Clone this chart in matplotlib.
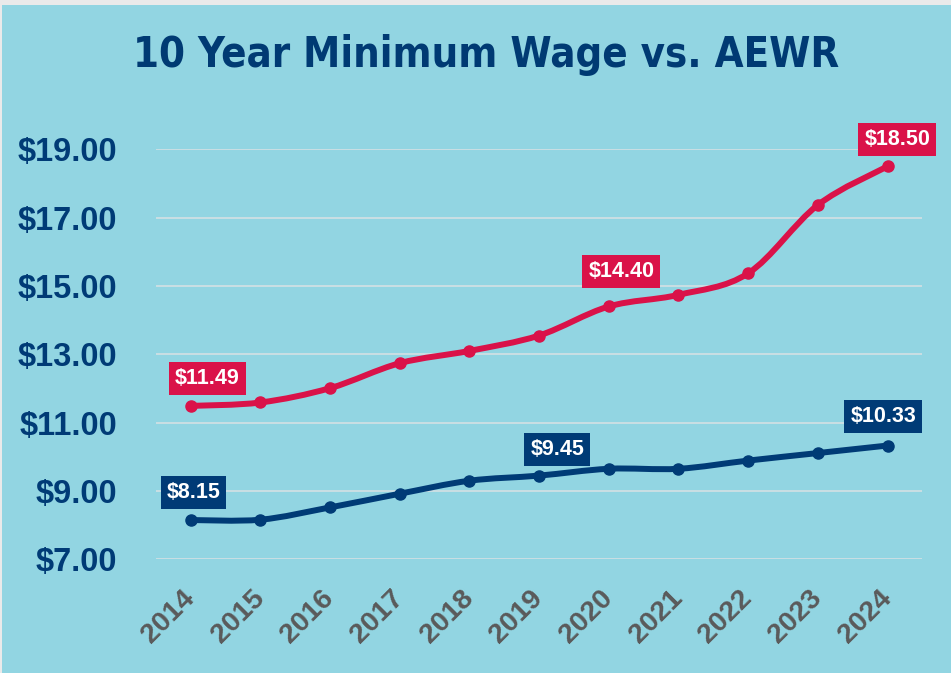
# 10 year minimum wage vs AEWR line chart
import matplotlib
matplotlib.use('Agg')
from matplotlib import pyplot as plt
from matplotlib.path import Path
from matplotlib.patches import PathPatch, Rectangle

years = ['2014', '2015', '2016', '2017', '2018', '2019', '2020', '2021', '2022', '2023', '2024']
aewr = [11.49, 11.59, 12.01, 12.74, 13.10, 13.55, 14.40, 14.74, 15.37, 17.37, 18.50]
min_wage = [8.15, 8.16, 8.52, 8.92, 9.30, 9.45, 9.65, 9.65, 9.89, 10.11, 10.33]
y_ticks = [7, 9, 11, 13, 15, 17, 19]

bg = '#92D5E2'
red = '#DA1249'
navy = '#003B76'

fig = plt.figure(figsize=(9.51, 6.73), dpi=100)
fig.patch.set_facecolor('#EAEAEA')
fig.patches.append(Rectangle((2 / 951, 0), 1, 1 - 5 / 673, transform=fig.transFigure,
                             facecolor=bg, edgecolor='none', zorder=-10))

ax = fig.add_axes([0.1639, 0.1689, 0.806, 0.6093])
ax.set_facecolor('none')
ax.set_xlim(-0.5, len(years) - 0.5)
ax.set_ylim(7, 19)

for s in ax.spines.values():
    s.set_visible(False)
ax.set_yticks(y_ticks)
ax.set_yticklabels(['${:.2f}'.format(v) for v in y_ticks], color=navy,
                   fontsize=23.5, fontweight='bold', family='Liberation Sans')
ax.set_xticks(range(len(years)))
ax.set_xticklabels(years, rotation=45, ha='right', va='center', rotation_mode='anchor',
                   color='#5A5A5A', fontsize=20.5, fontweight='bold', family='Liberation Sans')
ax.tick_params(axis='y', length=0, pad=28)
ax.tick_params(axis='x', length=0, pad=25)
ax.grid(axis='y', color='#D3E1E4', linewidth=1.2)
ax.set_axisbelow(True)


def smooth_path(vals):
    # excel-like smoothed line: catmull-rom segments as cubic beziers
    pts = list(enumerate(vals))
    verts = [pts[0]]
    codes = [Path.MOVETO]
    n = len(pts)
    for i in range(n - 1):
        p0 = pts[max(i - 1, 0)]
        p1 = pts[i]
        p2 = pts[i + 1]
        p3 = pts[min(i + 2, n - 1)]
        c1 = (p1[0] + (p2[0] - p0[0]) / 6, p1[1] + (p2[1] - p0[1]) / 6)
        c2 = (p2[0] - (p3[0] - p1[0]) / 6, p2[1] - (p3[1] - p1[1]) / 6)
        verts += [c1, c2, p2]
        codes += [Path.CURVE4] * 3
    return Path(verts, codes)


for vals, col in [(aewr, red), (min_wage, navy)]:
    ax.add_patch(PathPatch(smooth_path(vals), fill=False, edgecolor=col,
                           linewidth=4.3, capstyle='round', zorder=3, clip_on=False))
    ax.plot(range(len(vals)), vals, 'o', color=col, markersize=8, zorder=4, clip_on=False)

# data labels: (series, index, dx, dy) offsets in points
labels = [(aewr, 0, 12, 20), (aewr, 6, 9, 25), (aewr, 10, 7, 19),
          (min_wage, 0, 2, 20), (min_wage, 5, 13, 19), (min_wage, 10, -3, 21)]
for vals, i, dx, dy in labels:
    col = red if vals is aewr else navy
    ax.annotate('${:.2f}'.format(vals[i]), (i, vals[i]), xytext=(dx, dy),
                textcoords='offset points', ha='center', va='center',
                color='white', fontsize=15.5, fontweight='bold', family='Liberation Sans',
                bbox=dict(boxstyle='square,pad=0.28', facecolor=col, edgecolor='none'),
                zorder=5, annotation_clip=False)

fig.text(0.5116, 0.900, '10 Year Minimum Wage vs. AEWR', ha='center', va='baseline',
         color='#003A73', fontsize=30, fontweight='bold', fontstretch='condensed',
         family='DejaVu Sans')

fig.savefig('out.png', dpi=100, facecolor=fig.get_facecolor())
